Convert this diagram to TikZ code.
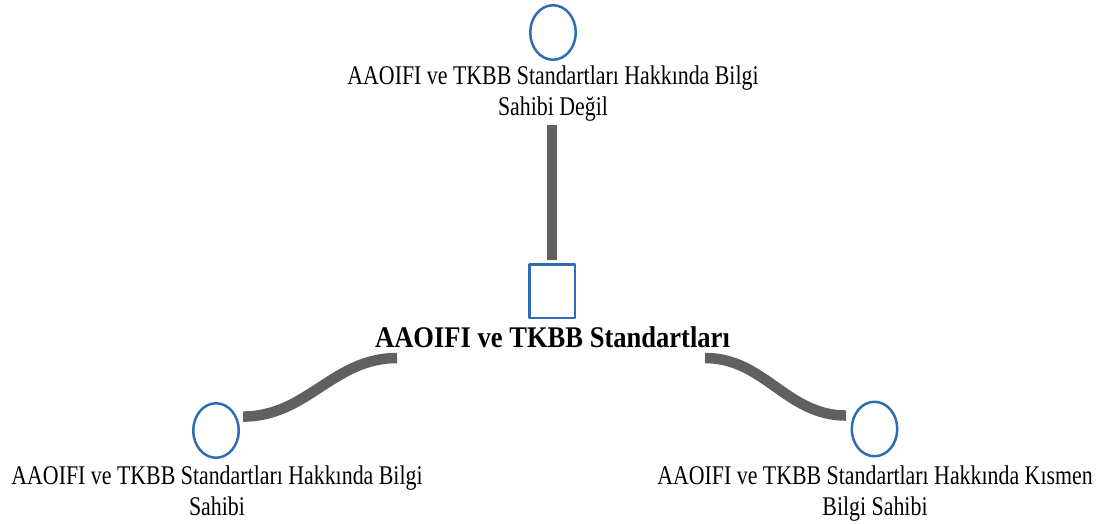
\documentclass[tikz,border=0pt]{standalone}
\usepackage{fontspec}
\newfontfamily\lblfont[FakeStretch=0.81]{Liberation Serif}
\newfontfamily\headfont[FakeStretch=0.885]{Liberation Serif}
\usetikzlibrary{shapes.geometric,calc}
\definecolor{dotblue}{RGB}{46,109,180}
\definecolor{linkgray}{RGB}{96,96,96}
\begin{document}
\begin{tikzpicture}[x=1pt, y=-1pt, line join=round,
		dot/.style={ellipse, draw=dotblue, line width=2.5pt, minimum width=45.5pt, minimum height=54.5pt, inner sep=0pt},
		boxnode/.style={rectangle, draw=dotblue, line width=2.5pt, minimum width=45.5pt, minimum height=53.5pt, inner sep=0pt},
		lbl/.style={font=\lblfont\fontsize{27}{31}\selectfont, align=center, inner sep=0pt, anchor=base},
		head/.style={font=\headfont\bfseries\fontsize{30}{34}\selectfont, inner sep=0pt, anchor=base},
		link/.style={draw=linkgray, line width=10.5pt}]
			\useasboundingbox (0,0) rectangle (1105,523);
			% nodes
			\node[dot] (topdot) at (553,32.5) {};
			\node[lbl] (toplbl) at (553,115) {AAOIFI ve TKBB Standartları Hakkında Bilgi\\Sahibi Değil};
			\node[boxnode] (box) at (552,291) {};
			\node[head] (mainlbl) at (552.5,347) {AAOIFI ve TKBB Standartları};
			\node[dot] (leftdot) at (216,430.5) {};
			\node[lbl] (leftlbl) at (217,515) {AAOIFI ve TKBB Standartları Hakkında Bilgi\\Sahibi};
			\node[dot] (rightdot) at (874.5,429) {};
			\node[lbl] (rightlbl) at (875,515) {AAOIFI ve TKBB Standartları Hakkında Kısmen\\Bilgi Sahibi};
			% connectors
			\coordinate (lfrom) at (397,358);
			\coordinate (rfrom) at (705,358);
			\draw[link, shorten <=4pt, shorten >=3pt] (toplbl.south -| box.north) -- (box.north);
			\draw[link] (lfrom) to[out=180, in=0] ($(leftdot.30)+(5.5,-1.5)$);
			\draw[link] (rfrom) to[out=0, in=180] ($(rightdot.150)+(-7,-1)$);
		\end{tikzpicture}
\end{document}
